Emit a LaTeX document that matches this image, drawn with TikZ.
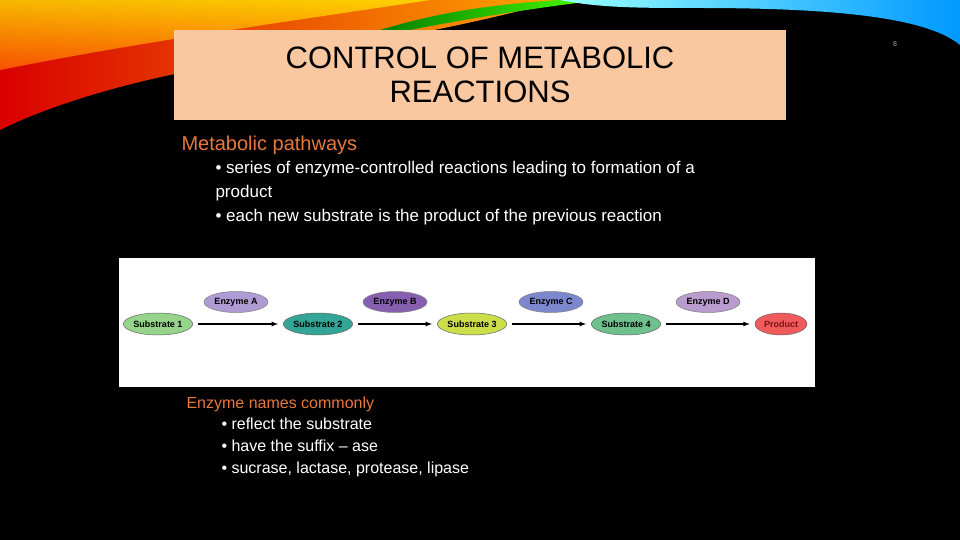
\documentclass[tikz,border=0pt]{standalone}
\usepackage{fontspec}
\setmainfont{Liberation Sans}
\usetikzlibrary{shapes.geometric}
\definecolor{peach}{RGB}{250,200,160}
\definecolor{orng}{RGB}{232,120,60}
\begin{document}
\begin{tikzpicture}[x=1pt,y=-1pt,
  sub/.style={ellipse,draw=black!60,line width=0.5pt,minimum width=68pt,minimum height=22pt,inner sep=0pt,font=\fontsize{9}{10}\selectfont\bfseries},
  enz/.style={ellipse,draw=black!50,line width=0.5pt,minimum width=64pt,minimum height=21pt,inner sep=0pt,font=\fontsize{9}{10}\selectfont\bfseries},
  arr/.style={-latex,line width=1.2pt,shorten >=5pt,shorten <=5pt}]
\fill[black] (0,0) rectangle (960,540);
% decorative swooshes
\shade[left color=red!85!black,right color=orange!70!yellow] (0,0) -- (560,0) .. controls (420,40) and (250,60) .. (170,75) .. controls (100,90) and (40,110) .. (0,130) -- cycle;
\shade[top color=yellow!80!orange,bottom color=orange!80!red,opacity=0.8] (0,0) -- (430,0) .. controls (300,20) and (150,40) .. (0,70) -- cycle;
\shade[left color=green!50!black,right color=green!70!yellow] (380,30) .. controls (430,15) and (480,5) .. (560,0) -- (600,0) .. controls (520,10) and (460,20) .. (400,32) -- cycle;
\shade[left color=cyan!40!white,right color=cyan!60!blue] (560,0) -- (960,0) -- (960,45) .. controls (930,20) and (850,8) .. (700,8) .. controls (640,8) and (600,8) .. (560,0) -- cycle;
% title box
\fill[peach] (174,30) rectangle (786,120);
\node[align=center,font=\fontsize{31}{34}\selectfont] (title) at (480,75) {CONTROL OF METABOLIC\\REACTIONS};
\node[text=gray!70,font=\fontsize{7}{8}\selectfont] (pg) at (895,44) {8};
% text
\node[anchor=west,text=orng,font=\fontsize{20}{22}\selectfont] (mp) at (178,145) {Metabolic pathways};
\node[anchor=north west,text=white,align=left,font=\fontsize{17}{24}\selectfont] (b1) at (212,158) {\textbullet\ series of enzyme-controlled reactions leading to formation of a\\product\\\textbullet\ each new substrate is the product of the previous reaction};
% image
\fill[white] (119,258) rectangle (815,387);
\node[sub,fill={rgb,255:red,150;green,212;blue,140}] (s1) at (158,324) {Substrate 1};
\node[sub,fill={rgb,255:red,50;green,165;blue,150}] (s2) at (318,324) {Substrate 2};
\node[sub,fill={rgb,255:red,205;green,222;blue,75}] (s3) at (472,324) {Substrate 3};
\node[sub,fill={rgb,255:red,110;green,192;blue,140}] (s4) at (626,324) {Substrate 4};
\node[sub,minimum width=52pt,fill={rgb,255:red,240;green,90;blue,90},text={rgb,255:red,120;green,20;blue,20}] (pr) at (781,324) {Product};
\node[enz,fill={rgb,255:red,175;green,155;blue,212}] (ea) at (236,302) {Enzyme A};
\node[enz,fill={rgb,255:red,135;green,95;blue,175}] (eb) at (395,302) {Enzyme B};
\node[enz,fill={rgb,255:red,125;green,135;blue,205}] (ec) at (551,302) {Enzyme C};
\node[enz,fill={rgb,255:red,185;green,155;blue,205}] (ed) at (708,302) {Enzyme D};
\draw[arr] (s1) -- (s2);
\draw[arr] (s2) -- (s3);
\draw[arr] (s3) -- (s4);
\draw[arr] (s4) -- (pr);
% enzyme names
\node[anchor=west,text=orng,font=\fontsize{16}{18}\selectfont] (en) at (183,404) {Enzyme names commonly};
\node[anchor=north west,text=white,align=left,font=\fontsize{16}{22}\selectfont] (b2) at (218,414) {\textbullet\ reflect the substrate\\\textbullet\ have the suffix -- ase\\\textbullet\ sucrase, lactase, protease, lipase};
\end{tikzpicture}
\end{document}
